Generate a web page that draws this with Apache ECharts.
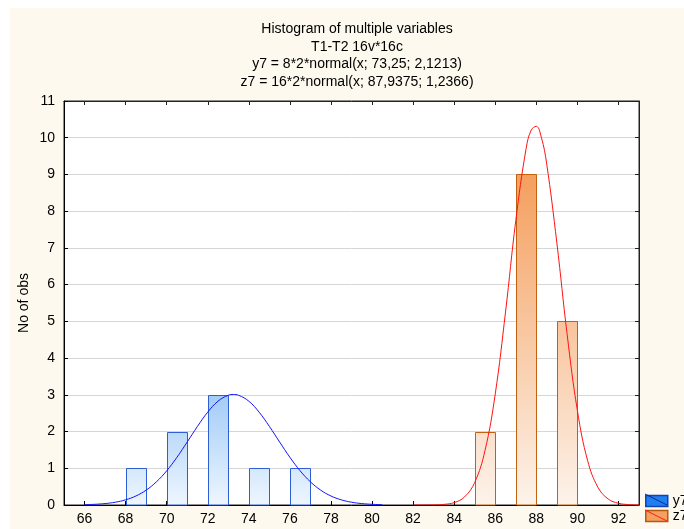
<!DOCTYPE html>
<html>
<head>
<meta charset="utf-8">
<script src="https://cdn.jsdelivr.net/npm/echarts@6/dist/echarts.min.js"></script>
<style>
html,body{margin:0;padding:0;background:#fff;}
#chart{width:684px;height:529px;}
</style>
</head>
<body>
<div id="chart"></div>
<script>
// ---- data ----
const titleLines = [
  'Histogram of multiple variables',
  'T1-T2 16v*16c',
  'y7 = 8*2*normal(x; 73,25; 2,1213)',
  'z7 = 16*2*normal(x; 87,9375; 1,2366)'
];
const xTickValues = [66, 68, 70, 72, 74, 76, 78, 80, 82, 84, 86, 88, 90, 92];
const yTickValues = [0, 1, 2, 3, 4, 5, 6, 7, 8, 9, 10, 11];

// histogram bars: left edge of each bar, and count
const y7BarLeft = [68, 70, 72, 74, 76];
const y7Counts  = [1, 2, 3, 1, 1];
const z7BarLeft = [85, 87, 89];
const z7Counts  = [2, 9, 5];
const BAR_WIDTH_UNITS = 1;

// fitted curves
const y7CurveX = [66, 66.5, 67, 67.5, 68, 68.5, 69, 69.5, 70, 70.5, 71, 71.5, 72, 72.5, 73, 73.25, 73.5, 74, 74.5, 75, 75.5, 76, 76.5, 77, 77.5, 78, 78.5, 79, 79.5, 80, 80.5];
const y7CurveY = [0.009, 0.019, 0.039, 0.076, 0.141, 0.245, 0.404, 0.631, 0.93, 1.299, 1.715, 2.141, 2.529, 2.827, 2.988, 3.009, 2.988, 2.827, 2.529, 2.141, 1.715, 1.299, 0.93, 0.631, 0.404, 0.245, 0.141, 0.076, 0.039, 0.019, 0.009];
const z7CurveX = [82, 82.5, 83, 83.5, 84, 84.5, 85, 85.5, 86, 86.5, 87, 87.5, 87.75, 88, 88.25, 88.5, 89, 89.5, 90, 90.5, 91, 91.5, 92, 92.5, 93];
const z7CurveY = [0.0001, 0.0007, 0.0036, 0.0165, 0.065, 0.217, 0.615, 1.479, 3.025, 5.253, 7.745, 9.698, 10.206, 10.311, 9.999, 9.309, 7.138, 4.647, 2.57, 1.206, 0.481, 0.163, 0.047, 0.011, 0.002];

const xMin = 65, xMax = 93, yMin = 0, yMax = 11;

// ---- build chart ----
const FONT = 'Liberation Sans, Arial, sans-serif';
const chart = echarts.init(document.getElementById('chart'), null, {renderer: 'canvas'});

function pairs(xs, ys) { return xs.map((x, i) => [x, ys[i]]); }

function barRenderer(topColor, bottomColor, stroke, gradMax) {
  return function (params, api) {
    const x0 = api.value(0), h = api.value(1);
    const pBase = api.coord([x0, 0]);
    const pTop = api.coord([x0 + BAR_WIDTH_UNITS, h]);
    const gTop = api.coord([x0, gradMax])[1];
    const gBot = api.coord([x0, 0])[1];
    const x = Math.round(pBase[0]) + 0.5;
    const x2 = Math.round(pTop[0]) + 0.5;
    const y = Math.round(pTop[1]) + 0.5;
    const yb = Math.round(pBase[1]);
    return {
      type: 'rect',
      shape: {x: x, y: y, width: x2 - x, height: yb - y},
      style: {
        fill: {
          type: 'linear', x: 0, y: gTop, x2: 0, y2: gBot, global: true,
          colorStops: [{offset: 0, color: topColor}, {offset: 1, color: bottomColor}]
        },
        stroke: stroke,
        lineWidth: 1
      }
    };
  };
}

const option = {
  backgroundColor: '#ffffff',
  animation: false,
  graphic: [
    {type: 'rect', z: -100, silent: true, shape: {x: 10, y: 8, width: 674, height: 521}, style: {fill: '#fdf9ee'}},
    {type: 'line', z: 100, shape: {x1: 645, y1: 494, x2: 667, y2: 505}, style: {stroke: '#0a2a8a', lineWidth: 1}},
    {type: 'line', z: 100, shape: {x1: 645, y1: 510, x2: 667, y2: 521}, style: {stroke: '#ff1a1a', lineWidth: 1}}
  ],
  title: {
    text: titleLines.join('\n'),
    left: 352,
    top: 15,
    textAlign: 'center',
    textStyle: {fontFamily: FONT, fontSize: 14, fontWeight: 'normal', color: '#000', lineHeight: 17.8}
  },
  legend: {
    orient: 'vertical',
    left: 645,
    top: 494,
    itemWidth: 22,
    itemHeight: 11,
    itemGap: 1,
    padding: 0,
    icon: 'rect',
    selectedMode: false,
    textStyle: {fontFamily: FONT, fontSize: 14, color: '#000'},
    data: [
      {name: 'y7', itemStyle: {color: '#1f7ff0', borderColor: '#1341b8', borderWidth: 1.5}},
      {name: 'z7', itemStyle: {color: '#f6a060', borderColor: '#b35a10', borderWidth: 1.5}}
    ]
  },
  grid: {
    left: 64, right: 45, top: 101, bottom: 24,
    show: true, backgroundColor: '#ffffff', borderColor: '#222', borderWidth: 1
  },
  xAxis: [
    {
      type: 'value', min: xMin, max: xMax, position: 'bottom',
      axisLine: {show: true, onZero: false, lineStyle: {color: '#000', width: 1}},
      axisTick: {show: true, inside: true, length: 4, customValues: xTickValues, lineStyle: {color: '#000'}},
      axisLabel: {customValues: xTickValues, fontFamily: FONT, fontSize: 14, color: '#000', margin: 7},
      splitLine: {show: false}
    },
    {
      type: 'value', min: xMin, max: xMax, position: 'top',
      axisLine: {show: true, onZero: false, lineStyle: {color: '#222', width: 1}},
      axisTick: {show: true, inside: true, length: 4, customValues: xTickValues, lineStyle: {color: '#222'}},
      axisLabel: {show: false},
      splitLine: {show: false}
    }
  ],
  yAxis: [
    {
      type: 'value', min: yMin, max: yMax, interval: 1, position: 'left',
      name: 'No of obs', nameLocation: 'middle', nameGap: 33, nameRotate: 90, nameMoveOverlap: false,
      nameTextStyle: {fontFamily: FONT, fontSize: 14, color: '#000'},
      axisLine: {show: true, onZero: false, lineStyle: {color: '#000', width: 1}},
      axisTick: {show: true, inside: true, length: 4, lineStyle: {color: '#000'}},
      axisLabel: {fontFamily: FONT, fontSize: 14, color: '#000', margin: 9, customValues: yTickValues},
      splitLine: {show: true, lineStyle: {color: '#d6d6d6', width: 1}}
    },
    {
      type: 'value', min: yMin, max: yMax, interval: 1, position: 'right',
      axisLine: {show: true, onZero: false, lineStyle: {color: '#222', width: 1}},
      axisTick: {show: true, inside: true, length: 4, lineStyle: {color: '#222'}},
      axisLabel: {show: false},
      splitLine: {show: false}
    }
  ],
  series: [
    {
      name: 'y7', type: 'custom', xAxisIndex: 0, yAxisIndex: 0,
      renderItem: barRenderer('#a2ccf7', '#eef6ff', '#2c5fd6', 3),
      itemStyle: {color: '#1f7ff0'},
      encode: {x: 0, y: 1},
      data: pairs(y7BarLeft, y7Counts), z: 2
    },
    {
      name: 'z7', type: 'custom', xAxisIndex: 0, yAxisIndex: 0,
      renderItem: barRenderer('#f49f5e', '#fdf3eb', '#c0620f', 9),
      itemStyle: {color: '#f6a060'},
      encode: {x: 0, y: 1},
      data: pairs(z7BarLeft, z7Counts), z: 2
    },
    {
      name: 'y7 fit', type: 'line', xAxisIndex: 0, yAxisIndex: 0,
      data: pairs(y7CurveX, y7CurveY), smooth: 0.4, symbol: 'none',
      lineStyle: {color: '#1414ff', width: 1}, z: 3
    },
    {
      name: 'z7 fit', type: 'line', xAxisIndex: 0, yAxisIndex: 0,
      data: pairs(z7CurveX, z7CurveY), smooth: 0.4, symbol: 'none',
      lineStyle: {color: '#ff1212', width: 1}, z: 3
    }
  ]
};
chart.setOption(option);
</script>
</body>
</html>
